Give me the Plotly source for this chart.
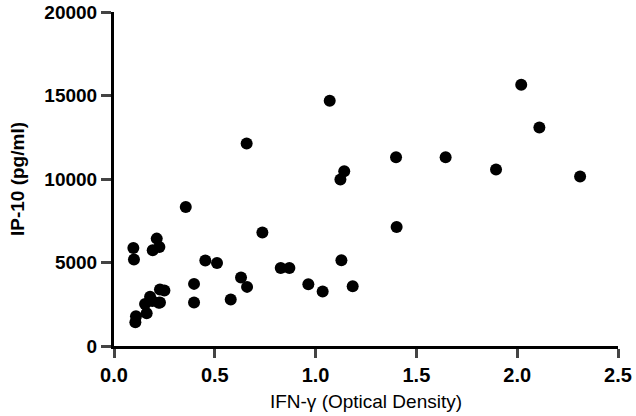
import plotly.graph_objects as go

# IFN-gamma optical density vs IP-10 concentration
ifn_gamma = [0.106, 0.109, 0.162, 0.154, 0.179, 0.222, 0.190, 0.228, 0.228, 0.250,
             0.096, 0.099, 0.192, 0.225, 0.212,
             0.356, 0.397, 0.397, 0.453, 0.511, 0.579, 0.630, 0.660, 0.658, 0.736,
             0.827, 0.870, 0.964, 1.035, 1.070, 1.123, 1.128, 1.142, 1.184,
             1.399, 1.402, 1.645, 1.895, 2.020, 2.110, 2.312]
ip10 = [1420, 1780, 1960, 2510, 2950, 2590, 2700, 3390, 2600, 3330,
        5870, 5180, 5730, 5930, 6430,
        8320, 3720, 2610, 5120, 4970, 2790, 4100, 3540, 12120, 6800,
        4670, 4670, 3700, 3270, 14690, 9970, 5140, 10470, 3580,
        11300, 7120, 11300, 10570, 15640, 13080, 10150]

x_ticks = [0.0, 0.5, 1.0, 1.5, 2.0, 2.5]
y_ticks = [0, 5000, 10000, 15000, 20000]

FONT = 'Liberation Sans'

fig = go.Figure(
    data=[go.Scatter(
        x=ifn_gamma,
        y=ip10,
        mode='markers',
        marker=dict(color='black', size=12, line=dict(width=0)),
        cliponaxis=False,
        showlegend=False,
    )],
)

fig.update_layout(
    width=636,
    height=416,
    margin=dict(l=114, r=18, t=12, b=70),
    paper_bgcolor='white',
    plot_bgcolor='white',
    font=dict(family=FONT, color='black'),
    xaxis=dict(
        range=[0, 2.5],
        tickvals=x_ticks,
        tickformat='.1f',
        ticks='outside',
        ticklen=9,
        tickwidth=3,
        showline=True,
        linewidth=3,
        linecolor='black',
        showgrid=False,
        zeroline=False,
        automargin=False,
        tickfont=dict(size=20, family=FONT, weight='bold'),
        title=dict(text='IFN-γ (Optical Density)', font=dict(size=19, family=FONT), standoff=10),
    ),
    yaxis=dict(
        range=[0, 20000],
        tickvals=y_ticks,
        tickformat='d',
        ticks='outside',
        ticklen=10,
        tickwidth=3,
        showline=True,
        linewidth=3,
        linecolor='black',
        showgrid=False,
        zeroline=False,
        automargin=False,
        tickfont=dict(size=19, family=FONT, weight='bold'),
        title=dict(text='IP-10 (pg/ml)', font=dict(size=19, family=FONT, weight='bold')),
    ),
)

# drop the browser's default 8px body margin so the figure sits at the page corner
fig.write_html('out.html', config={'displayModeBar': False},
               post_script="document.body.style.margin='0';")
